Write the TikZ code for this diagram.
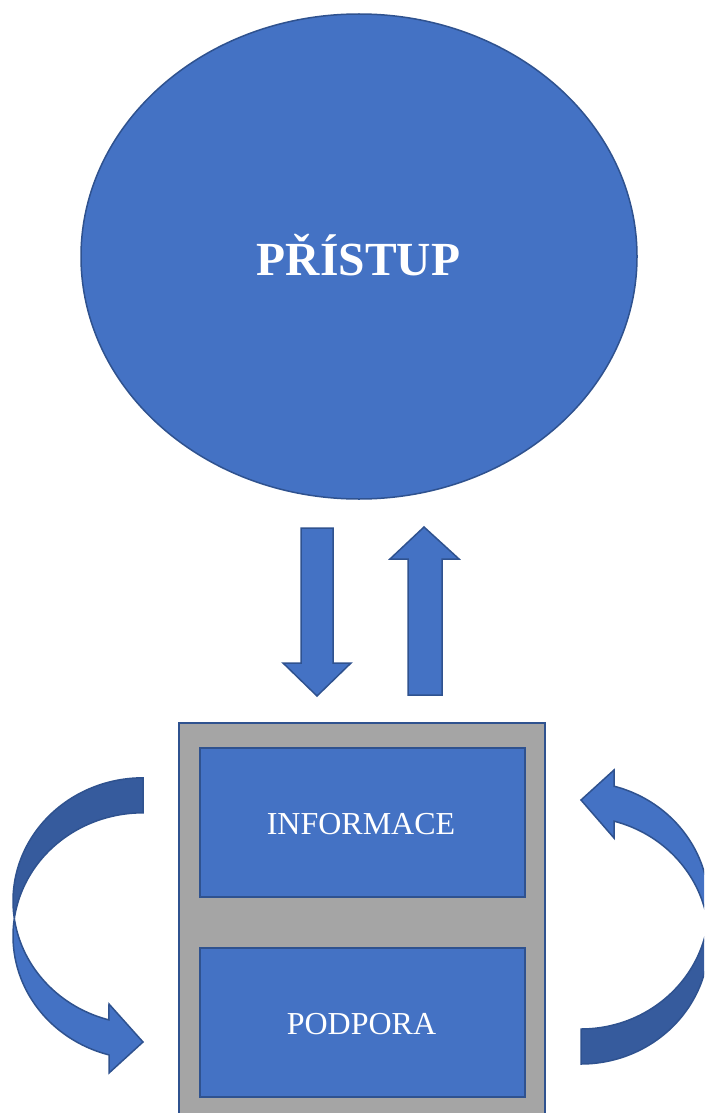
\documentclass[tikz,border=0pt]{standalone}
\usepackage{fontspec}
\setmainfont{Liberation Serif}
\definecolor{fillblue}{HTML}{4472C4}
\definecolor{edgeblue}{HTML}{2F528F}
\definecolor{darkblue}{HTML}{365B9D}
\definecolor{boxgray}{HTML}{A5A5A5}
\begin{document}
\begin{tikzpicture}[x=1pt,y=-1pt,
  shapeblue/.style={fill=fillblue,draw=edgeblue,line width=1.5pt,line join=miter},
  shapedark/.style={fill=darkblue,draw=edgeblue,line width=1.5pt,line join=miter},
  boxinner/.style={fill=fillblue,draw=edgeblue,line width=2pt}]
\useasboundingbox (0,0) rectangle (704,1113);
\clip (0,0) rectangle (704,1113);
% big ellipse
\draw[shapeblue] (359,256.5) ellipse [x radius=278, y radius=242.5];
\node[text=white,font=\bfseries\fontsize{47.5}{50}\selectfont,anchor=base] (pristup) at (358.5,275) {PŘÍSTUP};
% straight block arrows
\draw[shapeblue] (301,528) -- (333,528) -- (333,663) -- (351,663) -- (317,696) -- (283,663) -- (301,663) -- cycle;
\draw[shapeblue] (408,695) -- (442,695) -- (442,559) -- (459,559) -- (424,527) -- (390,559) -- (408,559) -- cycle;
% grey container
\draw[fill=boxgray,draw=edgeblue,line width=1.5pt] (179,723) rectangle (545,1125);
\draw[boxinner] (200,748) rectangle (525,897);
\draw[boxinner] (200,948) rectangle (525,1097);
\node[text=white,font=\fontsize{32}{34}\selectfont,anchor=base] (info) at (361,834) {INFORMACE};
\node[text=white,font=\fontsize{32}{34}\selectfont,anchor=base] (podpora) at (361.5,1034) {PODPORA};
% left curved arrow (dark back part)
\draw[shapedark] plot[domain=270:171.8,samples=60,variable=\t] ({143+130*cos(\t)},{901+123.2*sin(\t)})
  -- plot[domain=188.2:270,samples=60,variable=\t] ({143+130*cos(\t)},{936+123.2*sin(\t)}) -- cycle;
% left curved arrow (front part with head)
\draw[shapeblue] plot[domain=171.8:105.2,samples=60,variable=\t] ({143+130*cos(\t)},{901+123.2*sin(\t)})
  -- (109,1004) -- (143,1042) -- (109,1073) -- (109,1055)
  -- plot[domain=105.2:188.2,samples=60,variable=\t] ({143+130*cos(\t)},{936+123.2*sin(\t)}) -- cycle;
% right curved arrow (dark back part)
\draw[shapedark] plot[domain=90:-8.15,samples=60,variable=\t] ({581+128*cos(\t)},{940.5+123.5*sin(\t)})
  -- plot[domain=8.15:90,samples=60,variable=\t] ({581+128*cos(\t)},{905.5+123.5*sin(\t)}) -- cycle;
% right curved arrow (front part with head)
\draw[shapeblue] plot[domain=-8.15:-75.05,samples=60,variable=\t] ({581+128*cos(\t)},{940.5+123.5*sin(\t)})
  -- (614,838) -- (581,800) -- (614,770) -- (614,787)
  -- plot[domain=-75.05:8.15,samples=60,variable=\t] ({581+128*cos(\t)},{905.5+123.5*sin(\t)}) -- cycle;
\end{tikzpicture}
\end{document}
